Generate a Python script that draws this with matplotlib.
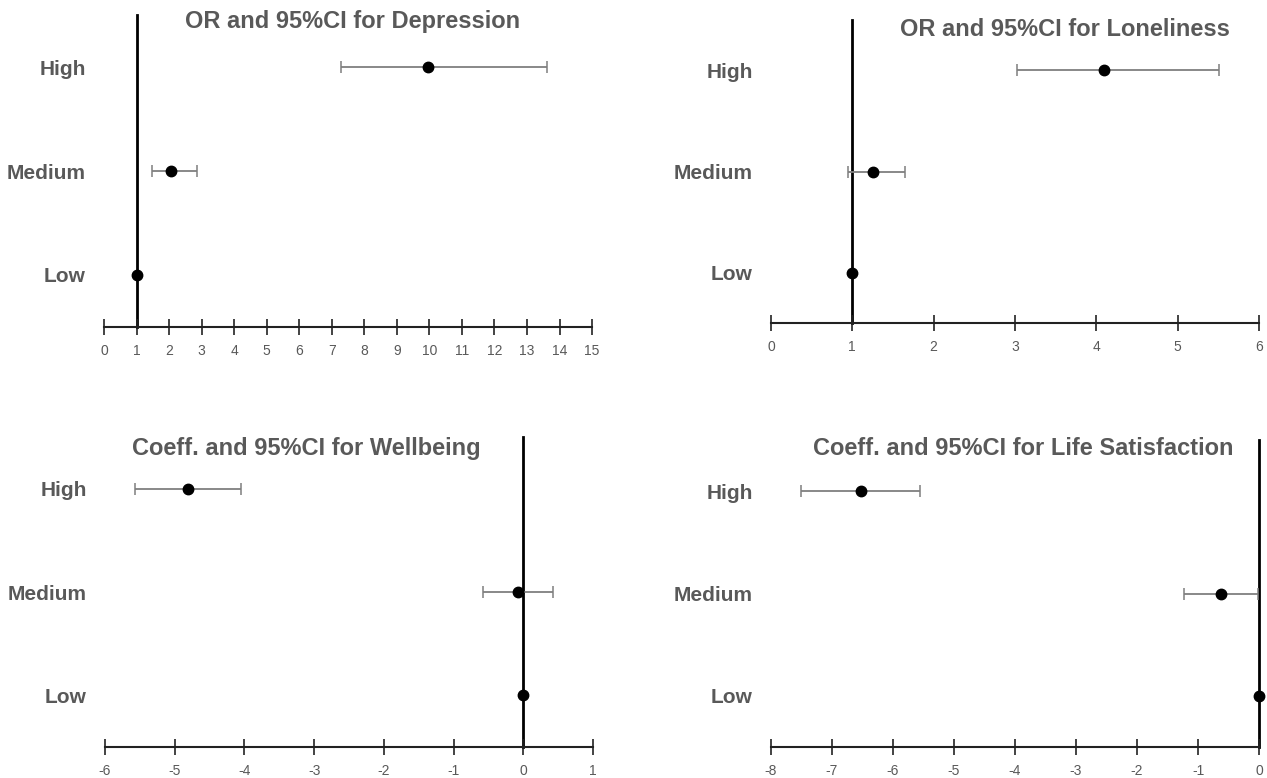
import matplotlib
matplotlib.use("Agg")
import matplotlib.pyplot as plt

plt.rcParams["font.family"] = ["Liberation Sans", "DejaVu Sans"]

LEVELS = ["Low", "Medium", "High"]

# estimates and 95% CI (Low is the reference)
dep_est = [1.0, 2.05, 9.97]
dep_lo = [1.0, 1.47, 7.28]
dep_hi = [1.0, 2.86, 13.62]

lon_est = [1.0, 1.25, 4.09]
lon_lo = [1.0, 0.95, 3.03]
lon_hi = [1.0, 1.65, 5.51]

wb_est = [0.0, -0.07, -4.81]
wb_lo = [0.0, -0.58, -5.57]
wb_hi = [0.0, 0.43, -4.05]

ls_est = [0.0, -0.62, -6.52]
ls_lo = [0.0, -1.23, -7.50]
ls_hi = [0.0, -0.01, -5.56]

PANELS = [
    ("OR and 95%CI for Depression", dep_est, dep_lo, dep_hi, 1, (0, 15), list(range(0, 16)),
     [0.0821, 0.5797, 0.3852, 0.401], (0.278, 0.972)),
    ("OR and 95%CI for Loneliness", lon_est, lon_lo, lon_hi, 1, (0, 6), list(range(0, 7)),
     [0.6085, 0.5848, 0.3852, 0.3895], (0.8406, 0.962)),
    ("Coeff. and 95%CI for Wellbeing", wb_est, wb_lo, wb_hi, 0, (-6, 1), list(range(-6, 2)),
     [0.0829, 0.0398, 0.3852, 0.3985], (0.2419, 0.424)),
    ("Coeff. and 95%CI for Life Satisfaction", ls_est, ls_lo, ls_hi, 0, (-8, 0), list(range(-8, 1)),
     [0.6085, 0.0398, 0.3852, 0.3946], (0.808, 0.423)),
]

GRAY = "#595959"

fig = plt.figure(figsize=(12.67, 7.78), dpi=100)
for title, est, lo, hi, ref, xlim, ticks, rect, tpos in PANELS:
    ax = fig.add_axes(rect)
    y = [1, 2, 3]
    err = [[e - l for e, l in zip(est, lo)], [h - e for e, h in zip(est, hi)]]
    ax.axvline(ref, color="black", lw=2, zorder=1, clip_on=False)
    ax.errorbar(est[1:], y[1:], xerr=[err[0][1:], err[1][1:]], fmt="none",
                ecolor="#7f7f7f", elinewidth=1.3, capsize=4, capthick=1.1, zorder=2)
    ax.plot(est, y, "o", color="black", ms=7.5, zorder=3, clip_on=False)

    ax.set_xlim(*xlim)
    ax.set_ylim(0.5, 3.5)
    ax.set_xticks(ticks)
    ax.set_xticklabels([str(t) for t in ticks], color=GRAY, fontsize=10)
    ax.set_yticks(y)
    ax.set_yticklabels(LEVELS, color=GRAY, fontsize=15, fontweight="bold")
    ax.tick_params(axis="y", length=0, pad=13)
    ax.tick_params(axis="x", direction="inout", length=12, width=1.2, color="#222222", pad=6)
    for s in ["top", "right", "left"]:
        ax.spines[s].set_visible(False)
    ax.spines["bottom"].set_linewidth(1.5)
    ax.spines["bottom"].set_color("#222222")
    ax.patch.set_alpha(0)
    fig.text(tpos[0], tpos[1], title, ha="center", va="center", color=GRAY,
             fontsize=17, fontweight="bold")

fig.savefig("out.png", dpi=100)
